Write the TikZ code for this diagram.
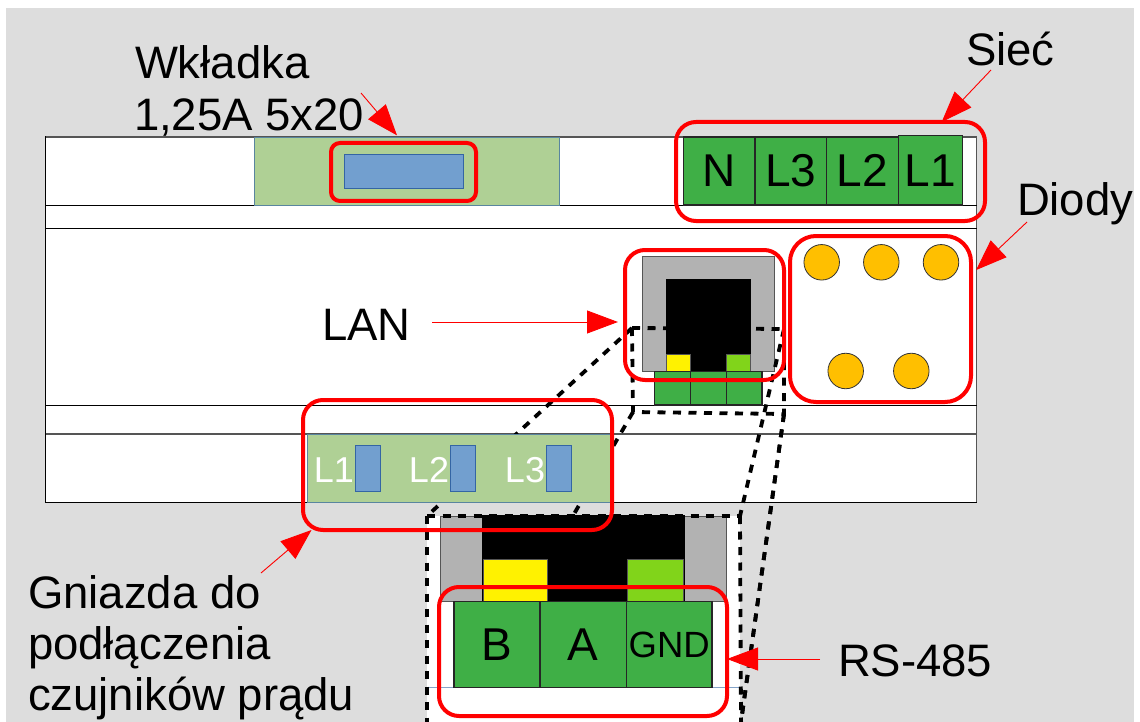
\documentclass[tikz,border=0pt]{standalone}
\usepackage{fontspec}
\setmainfont{Liberation Sans}
\usetikzlibrary{arrows.meta,calc}
\definecolor{bgc}{HTML}{DDDDDD}
\definecolor{fuseg}{HTML}{AFD095}
\definecolor{blu}{HTML}{729FCF}
\definecolor{blud}{HTML}{3465A4}
\definecolor{term}{HTML}{3FAF46}
\definecolor{gry}{HTML}{B2B2B2}
\definecolor{lime}{HTML}{81D41A}
\definecolor{oran}{HTML}{FFBF00}
\definecolor{edge}{HTML}{555555}
\newcommand{\blk}[6]{% name, x1,y1,x2,y2, options
  \pgfmathsetmacro{\bw}{#4-#2}\pgfmathsetmacro{\bh}{#5-#3}
  \pgfmathsetmacro{\bx}{(#2+#4)/2}\pgfmathsetmacro{\by}{(#3+#5)/2}
  \node[box,text height=0pt,minimum width=\bw pt,minimum height=\bh pt,#6] (#1) at (\bx,\by) {};}
\newcommand{\blt}[7]{% name, x1,y1,x2,y2, options, text
  \pgfmathsetmacro{\bw}{#4-#2}\pgfmathsetmacro{\bh}{#5-#3}
  \pgfmathsetmacro{\bx}{(#2+#4)/2}\pgfmathsetmacro{\by}{(#3+#5)/2}
  \node[box,minimum width=\bw pt,minimum height=\bh pt,#6] (#1) at (\bx,\by) {#7};}
\tikzset{
  box/.style={inner sep=0pt,outer sep=0pt,rectangle,font=\fontsize{46}{46}\selectfont,text height=32pt,text depth=0pt},
  fuse/.style={fill=fuseg,draw=blud!70!fuseg,line width=0.8pt},
  bluebox/.style={fill=blu,draw=blud,line width=0.8pt},
  terminal/.style={fill=term,draw=black!85,line width=1.1pt},
  greyb/.style={fill=gry,draw=edge,line width=1pt},
  blackb/.style={fill=black,draw=black,line width=0.6pt},
  yel/.style={fill=yellow,draw=edge,line width=1pt},
  limeb/.style={fill=lime,draw=edge,line width=1pt},
  frame/.style={draw=red,line width=4pt,rounded corners=#1},
  frame/.default=20pt,
  led/.style={circle,fill=oran,draw=black!80,line width=0.8pt,inner sep=0pt,minimum size=35.5pt},
  zoomline/.style={draw=black,line width=3.8pt,dash pattern=on 8pt off 7.5pt},
  pointer/.style={draw=red,line width=0.9pt,-{Triangle[length=31pt,width=23pt,fill=red]}},
  lbl/.style={anchor=base west,inner sep=0pt,outer sep=0pt,font=\fontsize{45.5}{45.5}\selectfont},
  wtext/.style={text=white,font=\fontsize{36}{36}\selectfont,text height=25pt},
}
\begin{document}
\begin{tikzpicture}[x=1pt,y=-1pt]
\useasboundingbox (0,0) rectangle (1140,722);
\fill[white] (0,0) rectangle (1140,722);
\fill[bgc] (6,8) rectangle (1134,722);

% device body
\blk{body}{45.5}{137}{976.5}{502}{fill=white,draw=black,line width=1pt}
\draw[edge,line width=1.6pt] (body.north west) -- (body.north east);
\draw[edge,line width=1.2pt] (body.north east) -- (body.south east);
\coordinate (la) at (45.5,205.5);
\coordinate (lb) at (45.5,228.5);
\coordinate (lc) at (45.5,405);
\coordinate (ld) at (45.5,434);
\draw[black,line width=1pt] (la) -- (la -| body.east);
\draw[black,line width=1pt] (lb) -- (lb -| body.east);
\draw[black,line width=1pt] (lc) -- (lc -| body.east);
\draw[edge,line width=1.6pt] (ld) -- (ld -| body.east);

% fuse
\blk{fuse}{254.5}{137.5}{559}{205.5}{fuse}
\blk{fuseb}{344}{154}{463.5}{188.5}{bluebox}

% mains terminals
\blt{tN}{683.5}{137}{755}{205}{terminal}{N}
\blt{tL3}{755}{137}{826.5}{205}{terminal}{L3}
\blt{tL2}{826.5}{137}{898.5}{205}{terminal}{L2}
\blt{tL1}{898.5}{135.5}{962.5}{205}{terminal}{L1}

% LEDs
\node[led] (d1) at (821.7,262.3) {};
\node[led] (d2) at (881.3,262.3) {};
\node[led] (d3) at (941,262.3) {};
\node[led] (d4) at (845.7,371) {};
\node[led] (d5) at (911.3,371) {};

% LAN socket
\blk{rjg}{642.7}{256.7}{774}{371}{greyb}
\blk{rjb}{666}{279.5}{750.5}{371}{blackb}
\blk{rjy}{666.5}{354.5}{690}{371}{yel}
\blk{rjl}{726.5}{354.5}{750}{371}{limeb}
\blk{rt1}{654.5}{371.5}{690.5}{405}{terminal}
\blk{rt2}{690.5}{371.5}{726.5}{405}{terminal}
\blk{rt3}{726.5}{371.5}{762}{405}{terminal}

% magnifier lines
\coordinate (zA) at (632,328);
\coordinate (zB) at (784,329);
\coordinate (zC) at (784,414);
\coordinate (zD) at (633,412);
\coordinate (zE) at (427,516);
\coordinate (zF) at (740,516);
\coordinate (zG) at (574,514);
\coordinate (zH) at (741,722);
\coordinate (zI) at (427,722);
\draw[zoomline] (zA) -- (zB);
\draw[zoomline] (zA) -- (zD) -- (zC) -- (zB);
\draw[zoomline] (zA) -- (zE);
\draw[zoomline] (zD) -- (zG);
\draw[zoomline] (zB) -- (zF);
\draw[zoomline] (zC) -- (zH);

% current sensor sockets
\blk{sock}{307}{434}{612}{502}{fuse}
\blk{s1}{355}{445}{380}{491}{bluebox}
\blk{s2}{450}{445}{475}{491}{bluebox}
\blk{s3}{546}{445}{571}{491}{bluebox}
\node[box,wtext] (sL1) at (334,470) {L1};
\node[box,wtext] (sL2) at (429,470) {L2};
\node[box,wtext] (sL3) at (525,470) {L3};

% enlarged RJ45 detail
\blk{det}{427}{516}{740}{722}{fill=white}
\coordinate (de) at (427,687.5);
\draw[blud!60!white,line width=1pt] (de) -- (de -| det.east);
\blk{dg1}{440}{516}{482}{601}{greyb}
\blk{dg2}{684}{516}{726}{601}{greyb}
\blk{dbk}{482}{515.5}{684}{601}{blackb}
\blk{dy}{483}{559}{547}{601}{yel}
\blk{dl}{627}{559}{683}{601}{limeb}
\blt{dB}{454}{601.5}{540}{687.5}{terminal}{B}
\blt{dA}{540}{601.5}{626.5}{687.5}{terminal}{A}
\blt{dN}{626.5}{601.5}{712}{687.5}{terminal,font=\fontsize{36.5}{36.5}\selectfont,text height=25.5pt}{GND}
\draw[zoomline] (zE) -- (zF);
\draw[zoomline] (zE) -- (zI);
\draw[zoomline] (zF) -- (zH);
\draw[zoomline] (zC) -- (zH);

% red frames
\blk{frF}{331}{143}{476}{201}{frame=9pt}
\blk{frS}{676}{122}{985}{221}{frame}
\blk{frL}{625}{250}{784}{380}{frame}
\blk{frD}{790}{236}{971}{402}{frame=26pt}
\blk{frG}{303}{400}{612}{530}{frame}
\blk{frR}{439}{587}{727}{716}{frame}

% labels
\node[lbl] (tW1) at (135,79) {Wkładka};
\node[lbl] (tW2) at (134,131) {1,25A 5x20};
\node[lbl] (tS) at (966,66) {Sieć};
\node[lbl] (tD) at (1017,215) {Diody};
\node[lbl] (tLAN) at (322,340) {LAN};
\node[lbl] (tRS) at (838,676) {RS-485};
\node[lbl] (tG1) at (28,608) {Gniazda do};
\node[lbl] (tG2) at (28,659) {podłączenia};
\node[lbl] (tG3) at (28,710) {czujników prądu};

% pointers
\coordinate (pW) at (361,93);
\coordinate (pS) at (991,70);
\coordinate (pD) at (1027,222);
\coordinate (pL) at (432,322);
\coordinate (pR) at (820,659);
\coordinate (pG) at (261,573);
\draw[pointer,shorten >=10pt] (pW) -- (frF.north);
\draw[pointer] (pS) -- (frS.24.6);
\draw[pointer,shorten >=7pt] (pD) -- (frD.26.7);
\draw[pointer,shorten >=7pt] (pL) -- (pL -| frL.west);
\draw[pointer] (pR) -- (pR -| frR.east);
\draw[pointer] (pG) -- (frG.204.1);
\end{tikzpicture}
\end{document}
